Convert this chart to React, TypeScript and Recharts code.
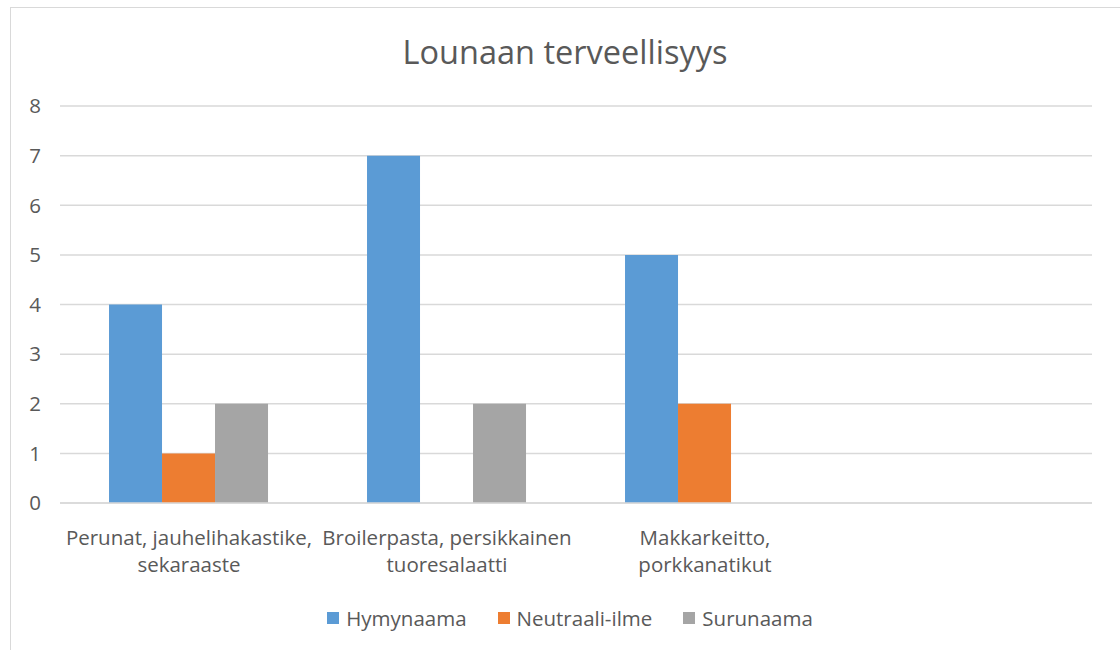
import React from 'react';
import { BarChart, Bar, XAxis, YAxis, CartesianGrid } from 'recharts';

const categories = [
  'Perunat, jauhelihakastike,\nsekaraaste',
  'Broilerpasta, persikkainen\ntuoresalaatti',
  'Makkarkeitto,\nporkkanatikut',
  '',
];
const hymynaama = [4, 7, 5, null];
const neutraali = [1, null, 2, null];
const surunaama = [2, 2, null, null];
const yTicks = [0, 1, 2, 3, 4, 5, 6, 7, 8];

const seriesNames = ['Hymynaama', 'Neutraali-ilme', 'Surunaama'];
const colors = ['#5B9BD5', '#ED7D31', '#A5A5A5'];

const data = categories.map((name, i) => ({
  name,
  hymy: hymynaama[i],
  neutraali: neutraali[i],
  suru: surunaama[i],
}));

const FONT = '"Open Sans", sans-serif';
const TEXT = '#595959';
const FS = 20.5;

const CategoryTick = (props: any) => {
  const { x, y, payload } = props;
  const lines = String(payload.value).split('\n');
  return (
    <g transform={`translate(${x},${y})`}>
      {lines.map((line, i) => (
        <text
          key={i}
          x={0}
          y={40 + i * 27}
          textAnchor="middle"
          fill={TEXT}
          fontSize={FS}
          fontFamily={FONT}
        >
          {line}
        </text>
      ))}
    </g>
  );
};

// legend drawn as plain html so it doesn't eat into the plot area
const LegendRow = () => (
  <div
    style={{
      position: 'absolute',
      left: 0,
      top: 605,
      width: 1140,
      height: 26,
      display: 'flex',
      justifyContent: 'center',
      alignItems: 'center',
      gap: 31,
      fontFamily: FONT,
      fontSize: FS,
      color: TEXT,
    }}
  >
    {seriesNames.map((n, i) => (
      <div key={n} style={{ display: 'flex', alignItems: 'center' }}>
        <span
          style={{
            display: 'inline-block',
            width: 12,
            height: 12,
            background: colors[i],
            marginRight: 7,
          }}
        />
        <span>{n}</span>
      </div>
    ))}
  </div>
);

export default function App() {
  return (
    <div
      style={{
        position: 'absolute',
        left: 0,
        top: 0,
        width: 1120,
        height: 650,
        overflow: 'hidden',
        background: '#fff',
      }}
    >
      <div
        style={{
          position: 'absolute',
          left: 10,
          top: 7,
          width: 1200,
          height: 700,
          border: '1.5px solid #D9D9D9',
        }}
      />
      <div
        style={{
          position: 'absolute',
          left: 0,
          top: 30,
          width: 1130,
          textAlign: 'center',
          fontFamily: FONT,
          fontSize: 32.5,
          color: TEXT,
          lineHeight: '44px',
        }}
      >
        Lounaan terveellisyys
      </div>
      <div style={{ position: 'absolute', left: 0, top: 0 }}>
        <BarChart
          width={1120}
          height={650}
          data={data}
          margin={{ top: 106, right: 28, bottom: 117, left: 0 }}
          barCategoryGap="19%"
          barGap={0}
        >
          <CartesianGrid vertical={false} stroke="#D9D9D9" strokeWidth={1.5} />
          <XAxis
            dataKey="name"
            height={30}
            interval={0}
            tickLine={false}
            tickSize={0}
            axisLine={{ stroke: '#D9D9D9', strokeWidth: 1.5 }}
            tick={<CategoryTick />}
          />
          <YAxis
            width={60}
            domain={[0, 8]}
            ticks={yTicks}
            axisLine={false}
            tickLine={false}
            tickSize={0}
            tickMargin={19}
            tick={{ fill: TEXT, fontSize: FS, fontFamily: FONT }}
          />
          <Bar dataKey="hymy" name={seriesNames[0]} fill={colors[0]} isAnimationActive={false} />
          <Bar dataKey="neutraali" name={seriesNames[1]} fill={colors[1]} isAnimationActive={false} />
          <Bar dataKey="suru" name={seriesNames[2]} fill={colors[2]} isAnimationActive={false} />
        </BarChart>
      </div>
      <LegendRow />
    </div>
  );
}
